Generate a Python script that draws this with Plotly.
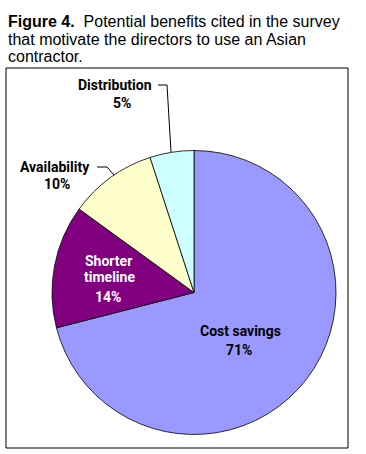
import plotly.graph_objects as go

labels = ["Cost savings", "Shorter timeline", "Availability", "Distribution"]
values = [71, 14, 10, 5]
colors = ["#9999FF", "#800080", "#FFFFCC", "#CCFFFF"]

W, H = 366, 454
cx, cy, r = 194, 292.5, 142

fig = go.Figure(go.Pie(
    labels=labels, values=values, sort=False, direction="clockwise", rotation=0,
    marker=dict(colors=colors, line=dict(color="#000000", width=0.8)),
    textinfo="none", hoverinfo="label+percent", showlegend=False,
    domain=dict(x=[(cx - r) / W, (cx + r) / W], y=[(H - cy - r) / H, (H - cy + r) / H]),
))

lab_family = "Roboto, Liberation Sans, Arial, sans-serif"

def px(x, y):
    return x / W, 1 - y / H

annots = []
def add(text, x, y, color="#000000", size=14, family=lab_family, xanchor="center"):
    ax, ay = px(x, y)
    annots.append(dict(text=text, x=ax, y=ay, xref="paper", yref="paper", showarrow=False,
                       xanchor=xanchor, yanchor="middle", align="center",
                       font=dict(family=family, size=size, color=color)))

# segment labels, one line per annotation
add("<b>Distribution</b>", 115, 85)
add("<b>5%</b>", 122, 103)
add("<b>Availability</b>", 55, 167)
add("<b>10%</b>", 57, 184)
add("<b>Shorter</b>", 108, 261, color="#FFFFFF")
add("<b>timeline</b>", 109, 277, color="#FFFFFF")
add("<b>14%</b>", 108, 297, color="#FFFFFF")
add("<b>Cost savings</b>", 241, 331)
add("<b>71%</b>", 239, 350)

# title lines
title_lines = ["<b>Figure 4.</b>  Potential benefits cited in the survey",
               "that motivate the directors to use an Asian",
               "contractor."]
for i, t in enumerate(title_lines):
    add(t, 6, 21 + 18 * i, size=16, family="Liberation Sans, Arial, sans-serif", xanchor="left")

shapes = []
x0, y0 = px(6, 68)
x1, y1 = px(348, 448)
shapes.append(dict(type="rect", xref="paper", yref="paper", x0=x0, y0=y1, x1=x1, y1=y0,
                   line=dict(color="#000000", width=1)))

def path(points):
    d = ""
    for i, (x, y) in enumerate(points):
        X, Y = px(x, y)
        d += ("M" if i == 0 else "L") + f"{X},{Y} "
    return d

for pts in ([(158, 85), (167, 85), (171, 152)], [(97, 167), (107, 167), (114, 175)]):
    shapes.append(dict(type="path", xref="paper", yref="paper", path=path(pts),
                       line=dict(color="#000000", width=1)))

fig.update_layout(width=W, height=H, margin=dict(l=0, r=0, t=0, b=0),
                  paper_bgcolor="#FFFFFF", plot_bgcolor="#FFFFFF",
                  annotations=annots, shapes=shapes)
fig.write_html("out.html", config={"displayModeBar": False},
               post_script="document.body.style.margin='0';document.body.style.padding='0';")
